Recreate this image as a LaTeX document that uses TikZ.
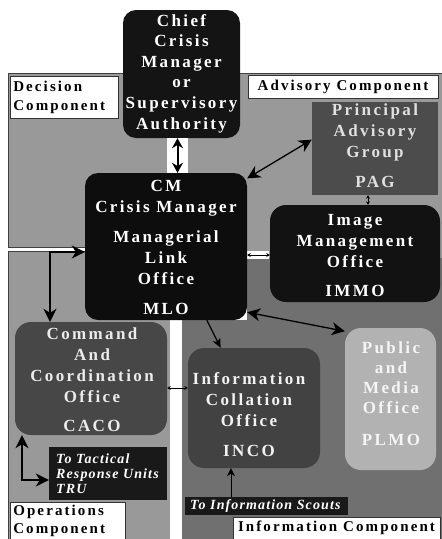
\documentclass[tikz,border=0pt]{standalone}
\usepackage{fontspec}
\setmainfont{Liberation Serif}
\newfontfamily\dgBox{Liberation Serif}[LetterSpace=14]
\newfontfamily\dgLab{Liberation Serif}[LetterSpace=14]
\newfontfamily\dgIt{Liberation Serif}[LetterSpace=8]
\usetikzlibrary{arrows.meta}
\colorlet{decgray}{black!40}
\colorlet{opgray}{black!40}
\colorlet{infogray}{black!56}
\begin{document}
\begin{tikzpicture}[x=1pt,y=-1pt,
  >={Stealth[length=13pt,width=13pt,inset=4pt]},
  conn/.style={line width=1.3pt},
  tiny/.style={line width=0.7pt,{Stealth[length=3.5pt,width=4pt]}-{Stealth[length=3.5pt,width=4pt]}},
  region/.style={draw=black!75, line width=0.6pt},
  dbox/.style={rectangle, rounded corners=13pt, inner sep=0pt},
  btxt/.style={inner sep=0pt, align=center, font=\dgBox\bfseries\fontsize{17}{21}\selectfont},
  labbox/.style={rectangle, fill=white, draw=black!80, line width=0.6pt, inner sep=0pt, font=\dgLab\bfseries\fontsize{15}{18.5}\selectfont},
  itbox/.style={rectangle, fill=black!90, inner sep=0pt},
  ittxt/.style={inner sep=0pt, align=left, text=white, font=\dgIt\bfseries\itshape\fontsize{14}{15}\selectfont},
  linkbox/.style={rectangle, fill=white, inner sep=0pt}
]
\useasboundingbox (0,0) rectangle (442,539);
\fill[white] (0,0) rectangle (442,539);
% regions
\fill[decgray] (8,73) rectangle (442,247);
\fill[decgray] (243,247) rectangle (442,258);
\draw[region] (8,247) -- (8,73) -- (442,73);
\draw[region] (8,247) -- (85,247);
\fill[opgray] (8,251) rectangle (170,539);
\draw[region] (8,539) -- (8,251) -- (85,251);
\fill[infogray] (247,258) -- (442,258) -- (442,539) -- (182,539) -- (182,320) -- (247,320) -- cycle;

% nodes
\node[dbox, fill=black!92, minimum width=117pt, minimum height=128pt] (chief) at (181.5,74) {};
\node[btxt, text=white, font=\dgBox\bfseries\fontsize{17}{20.6}\selectfont] (chief-t) at (181.5,73.5) {Chief\\Crisis\\Manager\\or\\Supervisory\\Authority};

\node[labbox, anchor=north west, minimum width=108pt, minimum height=42pt, text width=102pt, align=left] (declab) at (10,76) {Decision\\Component};
\node[labbox, minimum width=190pt, minimum height=23pt] (advlab) at (343,86.5) {Advisory Component};

\node[rectangle, fill=black!70, minimum width=126pt, minimum height=93pt, inner sep=0pt] (pag) at (375,148.5) {};
\node[btxt, text=black!12] (pag-t) at (375,146) {Principal\\Advisory\\Group\\[9pt]PAG};

\node[linkbox, minimum width=21pt, minimum height=35pt] (cmlink) at (177.5,155) {};
\node[linkbox, minimum width=22pt, minimum height=8pt] (mibox) at (258,255) {};

\node[dbox, fill=black!95, minimum width=162pt, minimum height=147pt] (mlo) at (166,246.5) {};
\node[btxt, text=white] (mlo-t) at (166,247.5) {CM\\Crisis Manager\\[9pt]Managerial\\Link\\Office\\[9pt]MLO};

\node[dbox, fill=black!93, rounded corners=16pt, minimum width=170pt, minimum height=97pt] (immo) at (355,253.5) {};
\node[btxt, text=white] (immo-t) at (355,256) {Image\\Management\\Office\\[8pt]IMMO};

\node[dbox, fill=black!72, rounded corners=16pt, minimum width=152pt, minimum height=113pt] (caco) at (91,378.5) {};
\node[btxt, text=black!8] (caco-t) at (92,380) {Command\\And\\Coordination\\Office\\[8pt]CACO};

\node[itbox, minimum width=118pt, minimum height=53pt] (tru) at (108,473.5) {};
\node[ittxt, anchor=west] (tru-t) at (56,474) {To Tactical\\Response Units\\TRU};

\node[labbox, anchor=north west, minimum width=115pt, minimum height=37pt, text width=109pt, align=left] (oplab) at (10,502) {Operations\\Component};

\node[dbox, fill=black!74, rounded corners=16pt, minimum width=132pt, minimum height=120pt] (inco) at (254,408) {};
\node[btxt, text=black!5] (inco-t) at (249,415) {Information\\Collation\\Office\\[9pt]INCO};

\node[dbox, fill=black!30, rounded corners=16pt, minimum width=91pt, minimum height=142pt] (plmo) at (390.5,399) {};
\node[btxt, text=black!4, font=\dgBox\bfseries\fontsize{17}{20}\selectfont] (plmo-t) at (391,393.5) {Public\\and\\Media\\Office\\[12pt]PLMO};

\node[itbox, minimum width=163pt, minimum height=18pt] (scouts) at (266.5,506) {};
\node[ittxt, anchor=west] (scouts-t) at (190,506) {To Information Scouts};

\node[labbox, minimum width=207pt, minimum height=22pt] (infolab) at (336.5,528) {Information Component};

% connectors
\coordinate (c1) at (50,252);
\draw[conn,<->] (mlo.west |- c1) -- (c1) -- (caco.north -| c1);
\coordinate (c2) at (22,480);
\draw[conn,<->] (caco.south -| c2) -- (c2) -- (tru.west |- c2);
\draw[conn,<->] (mlo.40) -- (pag.172);
\draw[conn,<->] (mlo.-39) -- (plmo.124);
\draw[conn,-{Stealth[length=9pt,width=8pt,inset=2pt]}] (mlo.-61) -- (inco.119);
\draw[line width=2pt,{Stealth[length=10pt,width=11pt]}-{Stealth[length=10pt,width=11pt]}] (chief.south -| cmlink) -- (mlo.north -| cmlink);
\coordinate (c4) at (0,255);
\draw[tiny] (mlo.east |- c4) -- (immo.west |- c4);
\coordinate (c3) at (368,0);
\draw[tiny] (pag.south -| c3) -- (immo.north -| c3);
\coordinate (c5) at (0,388);
\draw[tiny] (caco.east |- c5) -- (inco.west |- c5);
\coordinate (c6) at (231,0);
\draw[line width=1pt,-{Stealth[length=8pt,width=8pt]}] (scouts.north -| c6) -- (inco.south -| c6);
\end{tikzpicture}
\end{document}
